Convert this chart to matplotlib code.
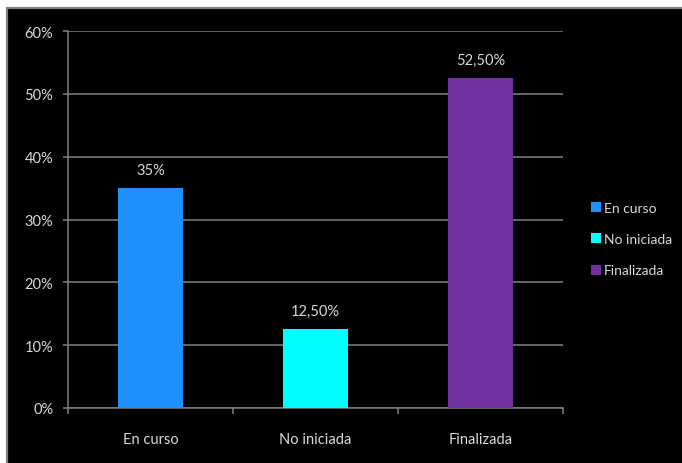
import matplotlib
matplotlib.use("Agg")
import matplotlib.pyplot as plt
from matplotlib.patches import Rectangle, Patch
from matplotlib.ticker import FixedLocator, PercentFormatter

categories = ["En curso", "No iniciada", "Finalizada"]
values = [35.0, 12.5, 52.5]
value_labels = ["35%", "12,50%", "52,50%"]
colors = ["#1E90FF", "#00FFFF", "#7030A0"]
y_ticks = [0, 10, 20, 30, 40, 50, 60]

TXT = "#d9d9d9"
GRID = "#808080"

plt.rcParams.update({"font.family": ["Lato", "DejaVu Sans"], "font.size": 10})

W, H = 682, 464
fig = plt.figure(figsize=(W / 100, H / 100), dpi=100, facecolor="white")

# black panel with a grey edge, white margin on the top and left
fig.patches.append(Rectangle((7 / W, -0.01), 1.02, 1 - 9 / H + 0.01,
                             transform=fig.transFigure, facecolor="black",
                             edgecolor="#7f7f7f", lw=1.6, zorder=-10))

ax = fig.add_axes([68 / W, 1 - 409 / H, (563 - 68) / W, (409 - 32) / H])
ax.set_facecolor("none")

x = range(len(categories))
ax.bar(x, values, width=0.395, color=colors, zorder=3)
for xi, v, lab in zip(x, values, value_labels):
    ax.annotate(lab, (xi, v), xytext=(0, 8), textcoords="offset points",
                ha="center", va="bottom", color=TXT, fontsize=10.5)

ax.set_xlim(-0.5, 2.5)
ax.set_ylim(0, 60)
ax.set_yticks(y_ticks)
ax.yaxis.set_major_formatter(PercentFormatter(decimals=0))
ax.yaxis.grid(True, color=GRID, lw=1.1, zorder=0)
ax.set_xticks(list(x))
ax.set_xticklabels(categories)
ax.xaxis.set_minor_locator(FixedLocator([-0.5, 0.5, 1.5, 2.5]))
ax.tick_params(axis="x", which="major", length=0, pad=17, colors=TXT, labelsize=10.5)
ax.tick_params(axis="x", which="minor", length=4, color=GRID, width=1.1)
ax.tick_params(axis="y", length=3.6, color=GRID, width=1.1, labelcolor=TXT,
               labelsize=10.5, pad=7)
for side in ("top", "right"):
    ax.spines[side].set_visible(False)
for side in ("left", "bottom"):
    ax.spines[side].set_color(GRID)
    ax.spines[side].set_linewidth(1.1)

handles = [Patch(facecolor=c, label=l) for c, l in zip(colors, categories)]
fig.legend(handles=handles, loc="center left", bbox_to_anchor=(591 / W, 1 - 240 / H),
           bbox_transform=fig.transFigure, frameon=False, borderpad=0,
           borderaxespad=0, handlelength=0.75, handleheight=0.75,
           handletextpad=0.2, labelspacing=1.4, labelcolor=TXT, fontsize=10)

fig.savefig("out.png", dpi=100, facecolor=fig.get_facecolor())
